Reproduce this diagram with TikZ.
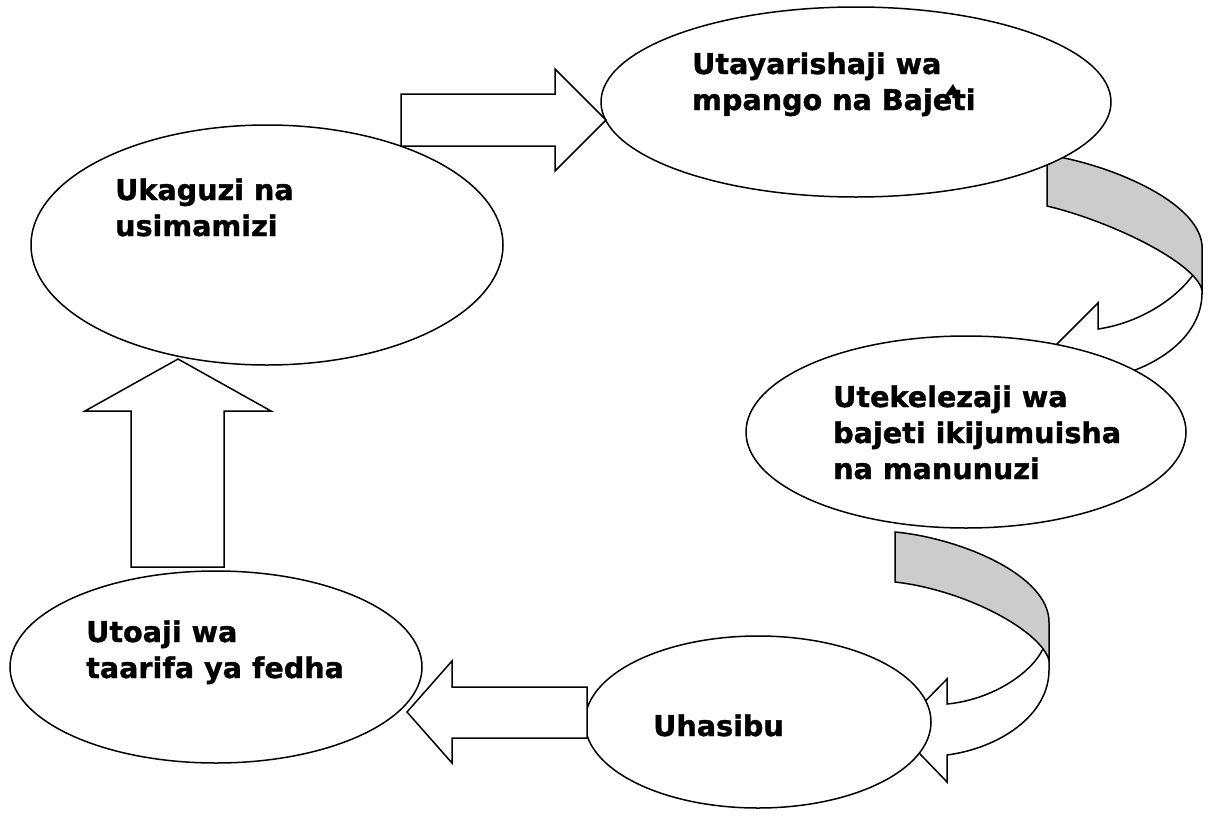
\documentclass[tikz,border=0pt]{standalone}
\usepackage{fontspec}
\setmainfont[BoldFeatures={FakeBold=1.2}]{DejaVu Sans}
\usetikzlibrary{shapes.geometric}
\definecolor{bandgray}{HTML}{CCCCCC}
\newcommand\lblfont{\bfseries\fontsize{28.6}{36}\selectfont}
\newcommand\lines[1]{\begin{tabular}[t]{@{}l@{}}#1\end{tabular}}
\tikzset{
  bub/.style={ellipse, draw, fill=white, line width=1.5pt, inner sep=0pt},
  blk/.style={draw, fill=white, line width=1.5pt, line join=miter},
  band/.style={draw, fill=bandgray, line width=1.5pt, line join=miter},
  front/.style={draw, fill=white, line width=1.5pt, line join=miter},
  lbl/.style={anchor=base west, inner sep=0pt, font=\lblfont}
}
\begin{document}
\begin{tikzpicture}[x=1pt, y=-1pt]
\useasboundingbox[fill=white] (0,0) rectangle (1210,822);

% curved arrow 1 (top right), drawn beneath the ellipses
\path[front] (1195,272) .. controls (1178,298) and (1140,323) .. (1098,329)
  -- (1098,303) -- (1046,355) -- (1098,407) -- (1098,380)
  .. controls (1150,372) and (1202,340) .. (1202,293) -- (1202,290);
\path[band] (1047,155) .. controls (1105,163) and (1198,200) .. (1202,245)
  -- (1202,290) .. controls (1195,262) and (1110,221) .. (1047,206) -- cycle;

% curved arrow 2 (lower right)
\path[front] (1043,649) .. controls (1030,675) and (990,700) .. (947,704)
  -- (947,679) -- (897,730) -- (947,782) -- (947,755)
  .. controls (1000,748) and (1049,715) .. (1049,670) -- (1049,660);
\path[band] (895,532) .. controls (960,538) and (1049,575) .. (1049,622)
  -- (1049,660) .. controls (1040,630) and (965,590) .. (895,582) -- cycle;

% ellipses
\node[bub, minimum width=510pt, minimum height=190pt] (e1) at (856,102) {};
\node[bub, minimum width=472pt, minimum height=240pt] (e2) at (267,245) {};
\node[bub, minimum width=440pt, minimum height=192pt] (e3) at (966,432) {};
\node[bub, minimum width=346pt, minimum height=172pt] (e4) at (758,722) {};
\node[bub, minimum width=412pt, minimum height=192pt] (e5) at (216,667) {};

% block arrows
\path[blk] (401,94) -- (555,94) -- (555,69) -- (606,120) -- (555,171)
  -- (555,146) -- (401,146) -- cycle;
\path[blk] (131,567) -- (131,411) -- (85,411) -- (178,359) -- (271,411)
  -- (224,411) -- (224,567) -- cycle;
\path[blk] (587,687) -- (452,687) -- (452,661) -- (407,712) -- (452,763)
  -- (452,738) -- (587,738) -- cycle;

% labels
\node[lbl] (t1) at (692,74) {\lines{Utayarishaji wa\\mpango na Bajeti}};
\node[lbl] (t2) at (115,200) {\lines{Ukaguzi na\\usimamizi}};
\node[lbl] (t3) at (833,407) {\lines{Utekelezaji wa\\bajeti ikijumuisha\\na manunuzi}};
\node[lbl] (t4) at (653,736) {Uhasibu};
\node[lbl] (t5) at (86,642) {\lines{Utoaji wa\\taarifa ya fedha}};

% small stray mark above "Bajeti"
\fill (953,84) -- (944,97) -- (958,93) -- cycle;
\end{tikzpicture}
\end{document}
